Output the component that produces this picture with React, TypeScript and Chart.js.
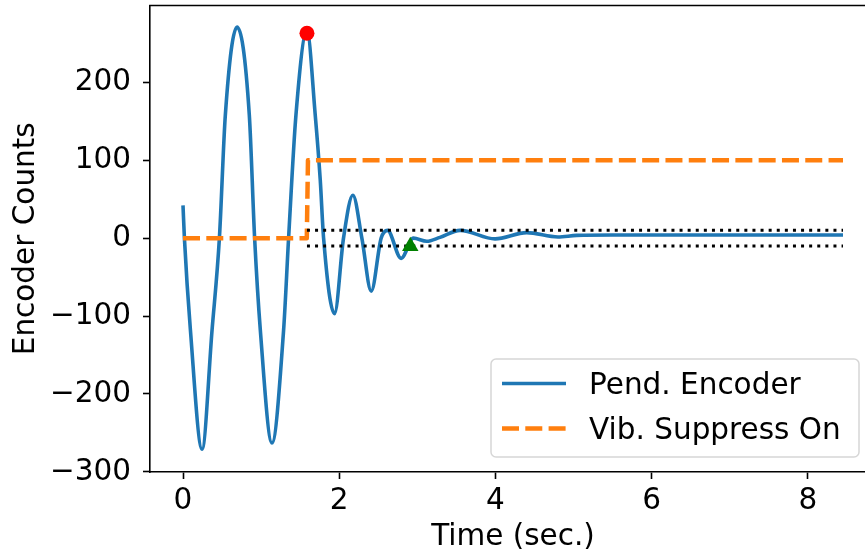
import React, { useEffect, useRef } from "react";
import { Chart, registerables } from "chart.js";

Chart.register(...registerables);

// ---- data ----
const pendTime = [
  0, 0.018, 0.095, 0.244, 0.372, 0.466, 0.542, 0.692, 0.849, 0.917, 0.99, 1.139,
  1.288, 1.352, 1.446, 1.587, 1.693, 1.757, 1.8, 1.94, 2.055, 2.175, 2.29, 2.41,
  2.537, 2.618, 2.793, 2.95, 3.12, 3.29, 3.547, 3.995, 4.4, 4.8, 5.04, 5.5, 6.5,
  7.5, 8.45,
];
const pendCounts = [
  42, 0, -118, -271, -118, 0, 158, 271, 158, 0, -118, -263,
  -118, 0, 158, 266, 158, 75, 0, -97, 0, 55, 0, -68,
  0, 10, -26, 0, -4, 1, 10, -1, 7, 1.5, 3.5, 4, 4,
  4, 4,
];

const suppressTime = [0, 1.585, 1.6, 8.45];
const suppressValue = [0, 0, 100, 100];

const bandTime = [1.587, 8.45];
const bandUpper = [10, 10];
const bandLower = [-10, -10];

const peakTime = [1.587];
const peakValue = [263];
const settleTime = [2.91];
const settleValue = [-10.5];

const xTicks = [0, 2, 4, 6, 8];
const xTickLabels = ["0", "2", "4", "6", "8"];
const yTicks = [-300, -200, -100, 0, 100, 200];
const yTickLabels = ["\u2212300", "\u2212200", "\u2212100", "0", "100", "200"];

const seriesLabels = ["Pend. Encoder", "Vib. Suppress On"];

const FONT = "DejaVu Sans";
const FS = 29.5;

// target right edge of the plot frame (matplotlib axes box, partly off-page)
const AREA_RIGHT = 876;
const SHIFT = 4; // canvas is shifted up by this many px

const zip = (xs: number[], ys: number[]) => xs.map((x, i) => ({ x, y: ys[i] }));

const topSpinePlugin = {
  id: "topSpine",
  afterDraw(chart: any) {
    const { ctx, chartArea } = chart;
    ctx.save();
    ctx.strokeStyle = "#000";
    ctx.lineWidth = 1.6;
    ctx.beginPath();
    ctx.moveTo(chartArea.left - 0.8, chartArea.top);
    ctx.lineTo(chartArea.right, chartArea.top);
    ctx.stroke();
    ctx.restore();
  },
};

const legendPlugin = {
  id: "mplLegend",
  afterDraw(chart: any) {
    const { ctx, chartArea } = chart;
    const w = 368;
    const h = 98;
    const right = chartArea.right - 17;
    const bottom = chartArea.bottom - 15;
    const left = right - w;
    const top = bottom - h;
    ctx.save();
    ctx.beginPath();
    const r = 5;
    ctx.moveTo(left + r, top);
    ctx.lineTo(right - r, top);
    ctx.arcTo(right, top, right, top + r, r);
    ctx.lineTo(right, bottom - r);
    ctx.arcTo(right, bottom, right - r, bottom, r);
    ctx.lineTo(left + r, bottom);
    ctx.arcTo(left, bottom, left, bottom - r, r);
    ctx.lineTo(left, top + r);
    ctx.arcTo(left, top, left + r, top, r);
    ctx.closePath();
    ctx.fillStyle = "rgba(255,255,255,0.8)";
    ctx.fill();
    ctx.strokeStyle = "rgba(204,204,204,0.8)";
    ctx.lineWidth = 1.5;
    ctx.stroke();

    const entries = seriesLabels
      .map((lbl) => chart.data.datasets.find((d: any) => d.label === lbl))
      .filter(Boolean);
    entries.forEach((ds: any, i: number) => {
      const cy = top + 24.5 + i * 45;
      ctx.beginPath();
      ctx.strokeStyle = ds.borderColor;
      ctx.lineWidth = ds.borderWidth;
      ctx.lineCap = "butt";
      ctx.setLineDash(ds.borderDash || []);
      ctx.moveTo(left + 11, cy);
      ctx.lineTo(left + 75, cy);
      ctx.stroke();
      ctx.setLineDash([]);
      ctx.fillStyle = "#000";
      ctx.font = `${FS}px "${FONT}"`;
      ctx.textAlign = "left";
      ctx.textBaseline = "alphabetic";
      ctx.fillText(ds.label, left + 98, cy + 10.7);
    });
    ctx.restore();
  },
};

export default function App() {
  const ref = useRef<HTMLCanvasElement | null>(null);

  useEffect(() => {
    if (!ref.current) return;
    const tickFont = { family: FONT, size: FS, lineHeight: 1.2 };
    const chart: any = new Chart(ref.current, {
      type: "line",
      data: {
        datasets: [
          {
            label: "peak",
            data: zip(peakTime, peakValue),
            showLine: false,
            pointRadius: 7.5,
            pointBackgroundColor: "#ff0000",
            pointBorderWidth: 0,
            borderColor: "#ff0000",
            order: 0,
          } as any,
          {
            label: "settle",
            data: zip(settleTime, settleValue),
            showLine: false,
            pointStyle: "triangle",
            pointRadius: 9.5,
            pointBackgroundColor: "#008000",
            pointBorderWidth: 0,
            borderColor: "#008000",
            order: 0,
          },
          {
            label: "upper",
            data: zip(bandTime, bandUpper),
            borderColor: "#000000",
            borderWidth: 3,
            borderDash: [3, 5.1],
            borderCapStyle: "butt",
            pointRadius: 0,
            order: 1,
          },
          {
            label: "lower",
            data: zip(bandTime, bandLower),
            borderColor: "#000000",
            borderWidth: 3,
            borderDash: [3, 5.1],
            borderCapStyle: "butt",
            pointRadius: 0,
            order: 1,
          },
          {
            label: seriesLabels[1],
            data: zip(suppressTime, suppressValue),
            borderColor: "#ff7f0e",
            borderWidth: 4.5,
            borderDash: [17, 6.3],
            borderCapStyle: "butt",
            borderJoinStyle: "round",
            pointRadius: 0,
            order: 2,
          } as any,
          {
            label: seriesLabels[0],
            data: zip(pendTime, pendCounts),
            borderColor: "#1f77b4",
            borderWidth: 3.6,
            cubicInterpolationMode: "monotone",
            pointRadius: 0,
            order: 3,
          } as any,
        ],
      },
      options: {
        animation: false,
        responsive: false,
        devicePixelRatio: 1,
        layout: { padding: { top: 0, right: 10, left: 0, bottom: 0 } },
        plugins: { legend: { display: false }, tooltip: { enabled: false } },
        events: [],
        scales: {
          x: {
            type: "linear",
            position: "bottom",
            min: -0.4225,
            max: 8.8725,
            afterFit: (s: any) => {
              s.height = 82;
              s.paddingLeft = 0;
              s.paddingRight = 0;
            },
            afterBuildTicks: (s: any) => {
              s.ticks = xTicks.map((v) => ({ value: v }));
            },
            ticks: {
              font: tickFont,
              color: "#000",
              padding: 5,
              maxRotation: 0,
              autoSkip: false,
              callback: (v: any) => xTickLabels[xTicks.indexOf(Number(v))] ?? "",
            },
            grid: {
              drawOnChartArea: false,
              drawTicks: true,
              tickLength: 7,
              tickWidth: 1.6,
              tickColor: "#000",
            },
            border: { display: true, color: "#000", width: 1.6 },
            title: {
              display: true,
              text: "Time (sec.)",
              color: "#000",
              font: { family: FONT, size: FS, lineHeight: 1.1 },
              padding: { top: 0, bottom: 0 },
            },
          },
          y: {
            type: "linear",
            position: "left",
            min: -300.2,
            max: 298.6,
            afterFit: (s: any) => {
              s.width = 150;
              s.paddingTop = 0;
              s.paddingBottom = 0;
            },
            afterBuildTicks: (s: any) => {
              s.ticks = yTicks.map((v) => ({ value: v }));
            },
            ticks: {
              font: tickFont,
              color: "#000",
              padding: 12,
              autoSkip: false,
              callback: (v: any) => yTickLabels[yTicks.indexOf(Number(v))] ?? "",
            },
            grid: {
              drawOnChartArea: false,
              drawTicks: true,
              tickLength: 7,
              tickWidth: 1.6,
              tickColor: "#000",
            },
            border: { display: true, color: "#000", width: 1.6 },
            title: {
              display: true,
              text: "Encoder Counts",
              color: "#000",
              font: { family: FONT, size: FS, lineHeight: 1.2 },
              padding: { top: 9 + SHIFT * 0, bottom: 0 },
            },
          },
        },
      } as any,
      plugins: [topSpinePlugin, legendPlugin],
    });
    // nudge right padding so the plot frame's right edge lands on the target
    for (let k = 0; k < 2; k++) {
      const ca = chart.chartArea;
      const pad = chart.options.layout.padding;
      const dRight = ca.right - AREA_RIGHT;
      if (Math.abs(dRight) < 0.3) break;
      pad.right = pad.right + dRight;
      chart.update();
    }
    return () => chart.destroy();
  }, []);

  return (
    <div
      style={{
        position: "fixed",
        left: 0,
        top: 0,
        width: 865,
        height: 554,
        overflow: "hidden",
        background: "#fff",
      }}
    >
      <canvas
        ref={ref}
        width={900}
        height={554 + SHIFT}
        style={{ width: 900, height: 554 + SHIFT, display: "block", marginTop: -SHIFT }}
      />
    </div>
  );
}
